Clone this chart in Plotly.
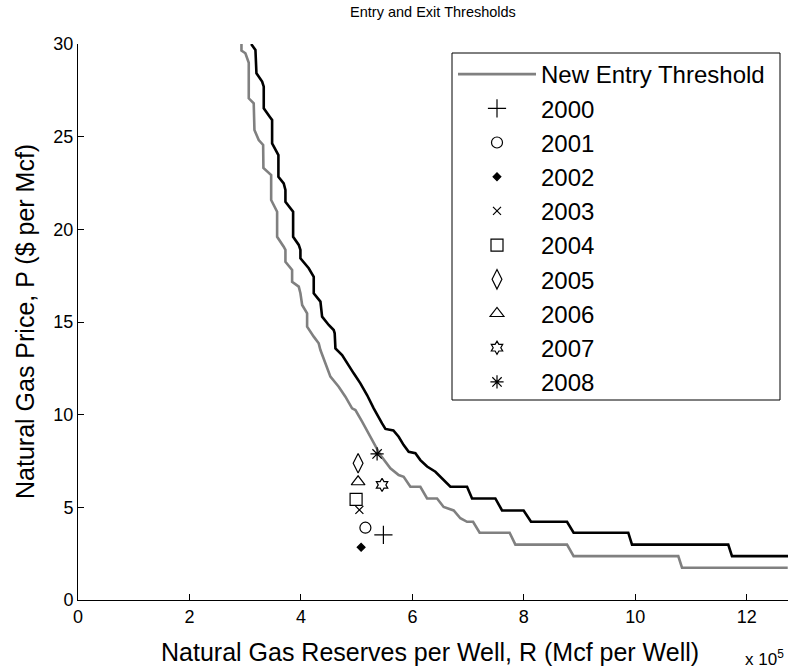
import plotly.graph_objects as go

R_SCALE = 1e5  # reserves stored in units of 10^5 Mcf per well

# New Entry Threshold (gray)
entry_R = [2.933, 2.933, 3.004, 3.064, 3.064, 3.153, 3.166, 3.243, 3.322, 3.327,
           3.466, 3.466, 3.573, 3.573, 3.691, 3.722, 3.722, 3.842, 3.842, 3.961,
           3.991, 4.022, 4.111, 4.111, 4.230, 4.319, 4.350, 4.439, 4.529, 4.678,
           4.798, 4.918, 4.978, 5.098, 5.216, 5.336, 5.426, 5.605, 5.754, 5.844,
           5.964, 6.143, 6.264, 6.443, 6.561, 6.741, 6.861, 6.981, 7.089, 7.207,
           7.745, 7.848, 8.775, 8.893, 10.771, 10.838, 12.735]
entry_P = [30.0, 29.64, 29.50, 28.99, 27.07, 26.80, 25.36, 24.82, 24.55, 23.31,
           22.93, 21.58, 20.95, 19.60, 19.06, 18.89, 18.25, 17.81, 17.17, 16.91,
           16.55, 15.92, 15.47, 14.75, 14.21, 13.85, 13.49, 12.77, 12.05, 11.51,
           10.97, 10.34, 10.25, 9.62, 8.99, 8.36, 7.82, 7.11, 6.74, 6.65,
           6.11, 6.11, 5.48, 5.48, 5.02, 4.83, 4.41, 4.22, 4.22, 3.63,
           3.63, 2.99, 2.99, 2.37, 2.37, 1.74, 1.74]

# Exit threshold (black)
exit_R = [3.107, 3.184, 3.202, 3.304, 3.333, 3.333, 3.440, 3.483, 3.483, 3.573,
          3.596, 3.596, 3.691, 3.722, 3.722, 3.860, 3.860, 3.961, 3.991, 3.991,
          4.140, 4.230, 4.230, 4.350, 4.380, 4.499, 4.588, 4.606, 4.619, 4.739,
          4.829, 4.947, 5.067, 5.187, 5.306, 5.367, 5.456, 5.516, 5.659, 5.754,
          5.844, 5.934, 6.054, 6.143, 6.264, 6.413, 6.502, 6.622, 6.682, 6.981,
          7.071, 7.489, 7.609, 7.996, 8.129, 8.775, 8.893, 9.874, 9.941, 11.668,
          11.735, 12.744]
exit_P = [30.0, 29.68, 28.42, 27.97, 27.70, 26.53, 26.08, 25.90, 24.64, 24.19,
          24.01, 22.84, 22.48, 22.12, 21.49, 20.95, 19.60, 19.16, 18.89, 18.44,
          17.90, 17.44, 16.55, 16.10, 15.29, 14.84, 14.57, 14.39, 13.58, 13.22,
          12.77, 12.23, 11.69, 11.06, 10.34, 9.98, 9.53, 9.23, 9.15, 8.81,
          8.36, 8.00, 7.92, 7.55, 7.20, 6.92, 6.65, 6.30, 6.11, 6.11,
          5.48, 5.48, 4.83, 4.83, 4.22, 4.22, 3.63, 3.63, 2.99, 2.99,
          2.37, 2.37]

years = ["2000", "2001", "2002", "2003", "2004", "2005", "2006", "2007", "2008"]
year_R = [5.48, 5.157, 5.080, 5.049, 4.990, 5.026, 5.026, 5.456, 5.367]
year_P = [3.51, 3.90, 2.84, 4.86, 5.43, 7.38, 6.38, 6.21, 7.88]
year_symbols = ["cross-thin-open", "circle-open", "diamond", "x-thin-open", "square-open",
                "diamond-tall-open", "triangle-up-open", "hexagram-open", "asterisk-open"]
year_sizes = [13, 11, 6, 8, 12, 14, 12, 10, 11]

x_ticks = [0, 2, 4, 6, 8, 10, 12]
y_ticks = [0, 5, 10, 15, 20, 25, 30]

FONT = "Liberation Sans, Arial, sans-serif"

fig = go.Figure()
fig.add_trace(go.Scatter(x=[r * R_SCALE for r in entry_R], y=entry_P, mode="lines",
                         name="New Entry Threshold",
                         line=dict(color="#808080", width=2.6)))
fig.add_trace(go.Scatter(x=[r * R_SCALE for r in exit_R], y=exit_P, mode="lines",
                         name="Exit Threshold", showlegend=False,
                         line=dict(color="#000000", width=2.6)))
for yr, r, p, s, sz in zip(years, year_R, year_P, year_symbols, year_sizes):
    fig.add_trace(go.Scatter(x=[r * R_SCALE], y=[p], mode="markers", name=yr,
                             marker=dict(symbol=s, size=sz, color="black",
                                         line=dict(color="black", width=1.2))))

W, H = 788, 671
L, R, T, B = 78, 0, 44, 71
pw, ph = W - L - R, H - T - B

def px(xp):
    return (xp - L) / pw

def py(yp):
    return (H - B - yp) / ph

fig.update_layout(
    width=W, height=H,
    margin=dict(l=L, r=R, t=T, b=B, pad=0, autoexpand=False),
    paper_bgcolor="white", plot_bgcolor="white",
    font=dict(family=FONT, color="black", size=18),
    title=dict(text="Entry and Exit Thresholds", x=px(433), xref="paper",
               y=1 - 12 / H, yref="container", xanchor="center", yanchor="middle",
               font=dict(size=14.5, color="black")),
    showlegend=True,
    legend=dict(x=px(453), y=py(52), xanchor="left", yanchor="top",
                bgcolor="rgba(0,0,0,0)", borderwidth=0,
                itemwidth=78, font=dict(size=24, family=FONT),
                itemsizing="trace"),
    xaxis=dict(range=[0, 12.74 * R_SCALE], tickvals=[t * R_SCALE for t in x_ticks],
               ticktext=[str(t) for t in x_ticks], ticks="inside", ticklen=6,
               tickcolor="black", showline=True, linecolor="black", linewidth=1,
               showgrid=False, zeroline=False, tickfont=dict(size=18)),
    yaxis=dict(range=[0, 30], tickvals=y_ticks, ticks="inside", ticklen=6,
               tickcolor="black", showline=True, linecolor="black", linewidth=1,
               showgrid=False, zeroline=False, tickfont=dict(size=18)),
    shapes=[dict(type="rect", xref="paper", yref="paper",
                 x0=px(452), x1=px(780), y0=py(400), y1=py(53),
                 line=dict(color="black", width=1), fillcolor="white", layer="above")],
    annotations=[
        dict(text="Natural Gas Reserves per Well, R (Mcf per Well)", xref="paper", yref="paper",
             x=px(430), y=py(652), xanchor="center", yanchor="middle", showarrow=False,
             font=dict(size=25)),
        dict(text="Natural Gas Price, P ($ per Mcf)", xref="paper", yref="paper",
             x=px(25), y=py(322), xanchor="center", yanchor="middle", textangle=-90,
             showarrow=False, font=dict(size=25)),
        dict(text="x 10<sup>5</sup>", xref="paper", yref="paper",
             x=px(786), y=py(658), xanchor="right", yanchor="middle", showarrow=False,
             font=dict(size=17)),
    ],
)

fig.write_html("out.html", config={"displayModeBar": False},
               post_script="document.body.style.margin='0px';document.body.style.overflow='hidden';")
